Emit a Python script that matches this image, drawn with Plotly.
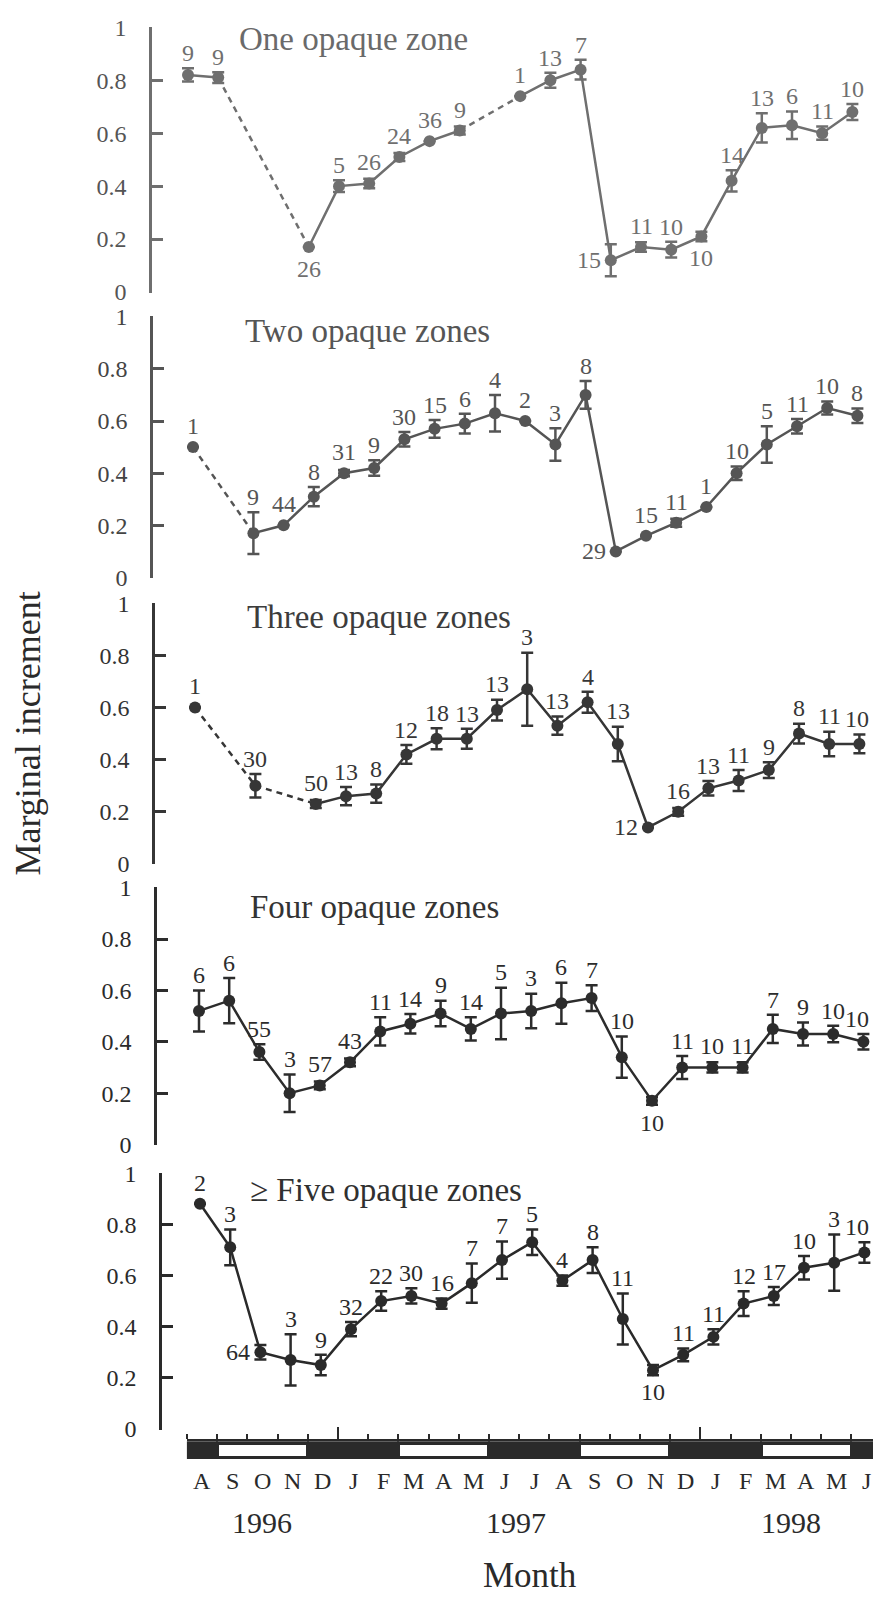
import plotly.graph_objects as go

# ---------------- data ----------------
MONTHS = ["A", "S", "O", "N", "D", "J", "F", "M", "A", "M", "J", "J",
          "A", "S", "O", "N", "D", "J", "F", "M", "A", "M", "J"]
MONTH_NUM = [8, 9, 10, 11, 12, 1, 2, 3, 4, 5, 6, 7, 8, 9, 10, 11, 12, 1, 2, 3, 4, 5, 6]
YEARS = ["1996", "1997", "1998"]

TITLES = ["One opaque zone", "Two opaque zones", "Three opaque zones",
          "Four opaque zones", "\u2265 Five opaque zones"]

P1_MEAN = [0.82, 0.81, None, None, 0.17, 0.40, 0.41, 0.51, 0.57, 0.61, None, 0.74,
           0.80, 0.84, 0.12, 0.17, 0.16, 0.21, 0.42, 0.62, 0.63, 0.60, 0.68]
P1_ERR = [0.025, 0.02, None, None, 0, 0.022, 0.018, 0.015, 0, 0.015, None, 0,
          0.028, 0.037, 0.06, 0.018, 0.03, 0.018, 0.04, 0.055, 0.052, 0.025, 0.03]
P1_N = [9, 9, None, None, 26, 5, 26, 24, 36, 9, None, 1,
        13, 7, 15, 11, 10, 10, 14, 13, 6, 11, 10]

P2_MEAN = [0.50, None, 0.17, 0.20, 0.31, 0.40, 0.42, 0.53, 0.57, 0.59, 0.63, 0.60,
           0.51, 0.70, 0.10, 0.16, 0.21, 0.27, 0.40, 0.51, 0.58, 0.65, 0.62]
P2_ERR = [0, None, 0.08, 0, 0.037, 0.012, 0.03, 0.028, 0.034, 0.038, 0.07, 0,
          0.062, 0.053, 0, 0, 0.015, 0, 0.026, 0.07, 0.028, 0.025, 0.028]
P2_N = [1, None, 9, 44, 8, 31, 9, 30, 15, 6, 4, 2,
        3, 8, 29, 15, 11, 1, 10, 5, 11, 10, 8]

P3_MEAN = [0.60, None, 0.30, None, 0.23, 0.26, 0.27, 0.42, 0.48, 0.48, 0.59, 0.67,
           0.53, 0.62, 0.46, 0.14, 0.20, 0.29, 0.32, 0.36, 0.50, 0.46, 0.46]
P3_ERR = [0, None, 0.045, None, 0.015, 0.035, 0.035, 0.036, 0.04, 0.038, 0.04, 0.14,
          0.035, 0.04, 0.066, 0, 0.015, 0.028, 0.04, 0.03, 0.038, 0.047, 0.036]
P3_N = [1, None, 30, None, 50, 13, 8, 12, 18, 13, 13, 3,
        13, 4, 13, 12, 16, 13, 11, 9, 8, 11, 10]

P4_MEAN = [0.52, 0.56, 0.36, 0.20, 0.23, 0.32, 0.44, 0.47, 0.51, 0.45, 0.51, 0.52,
           0.55, 0.57, 0.34, 0.17, 0.30, 0.30, 0.30, 0.45, 0.43, 0.43, 0.40]
P4_ERR = [0.08, 0.088, 0.03, 0.073, 0.015, 0.015, 0.055, 0.038, 0.05, 0.045, 0.1, 0.067,
          0.08, 0.05, 0.08, 0.015, 0.045, 0.02, 0.02, 0.055, 0.045, 0.032, 0.03]
P4_N = [6, 6, 55, 3, 57, 43, 11, 14, 9, 14, 5, 3,
        6, 7, 10, 10, 11, 10, 11, 7, 9, 10, 10]

P5_MEAN = [0.88, 0.71, 0.30, 0.27, 0.25, 0.39, 0.50, 0.52, 0.49, 0.57, 0.66, 0.73,
           0.58, 0.66, 0.43, 0.23, 0.29, 0.36, 0.49, 0.52, 0.63, 0.65, 0.69]
P5_ERR = [0, 0.07, 0.028, 0.1, 0.04, 0.028, 0.038, 0.03, 0.02, 0.077, 0.073, 0.05,
          0.02, 0.05, 0.1, 0.02, 0.025, 0.03, 0.048, 0.035, 0.046, 0.11, 0.04]
P5_N = [2, 3, 64, 3, 9, 32, 22, 30, 16, 7, 7, 5,
        4, 8, 11, 10, 11, 11, 12, 17, 10, 3, 10]

MEANS = [P1_MEAN, P2_MEAN, P3_MEAN, P4_MEAN, P5_MEAN]
ERRS = [P1_ERR, P2_ERR, P3_ERR, P4_ERR, P5_ERR]
NS = [P1_N, P2_N, P3_N, P4_N, P5_N]

# ---------------- layout / style ----------------
W, H = 873, 1601
FONT = "'Liberation Serif', 'Times New Roman', Times, serif"
COLORS = ["#6f6f6f", "#555555", "#363636", "#2c2c2c", "#2a2a2a"]
TITLE_COLORS = ["#6a6a6a", "#555555", "#3c3c3c", "#333333", "#303030"]
TICK_COLORS = ["#555555", "#444444", "#333333", "#2a2a2a", "#2a2a2a"]
AXIS_X = [152, 153, 155, 157, 162]
FIRST_X = [188, 193, 195, 199, 200]
STEP = 30.2
Y_TOP = [15, 309, 600, 889, 1179]
Y_BOT = [285, 575, 866, 1151, 1440]
TITLE_POS = [(237, 27), (243, 324), (245, 615), (248, 909), (248, 1197)]
LABEL_FS = 24
# label placement exceptions: (panel, month index) -> side
LABEL_SIDE = {(0, 4): "b", (0, 14): "l", (0, 17): "b",
              (1, 14): "l", (2, 15): "l", (3, 15): "b",
              (4, 2): "l", (4, 15): "b"}
YEAR_AT = [2.0, 10.4, 19.5]


def px_to_paper_y(py):
    return 1 - py / H


fig = go.Figure()
annotations = []
layout = {}
NM = len(MONTHS)

for k in range(5):
    ax = "" if k == 0 else str(k + 1)
    xref, yref = "x" + ax, "y" + ax
    mean, err, nn = MEANS[k], ERRS[k], NS[k]
    col = COLORS[k]
    idx = list(range(NM))

    # dashed bridges across missing months
    dx, dy = [], []
    i = 0
    while i < len(mean):
        if mean[i] is None:
            p = i - 1
            q = i
            while q < len(mean) and mean[q] is None:
                q += 1
            if p >= 0 and q < len(mean):
                dx += [p, q, None]
                dy += [mean[p], mean[q], None]
            i = q
        else:
            i += 1
    if dx:
        fig.add_trace(go.Scatter(x=dx, y=dy, mode="lines", xaxis=xref, yaxis=yref,
                                 line=dict(color=col, width=2.5, dash="6px,5px"),
                                 connectgaps=False, showlegend=False, hoverinfo="skip"))

    err_arr = [e if e else None for e in err]
    fig.add_trace(go.Scatter(
        x=idx, y=mean, mode="lines+markers", xaxis=xref, yaxis=yref,
        connectgaps=False, showlegend=False, cliponaxis=False,
        line=dict(color=col, width=2.5),
        marker=dict(color=col, size=12),
        error_y=dict(type="data", array=err_arr, visible=True, color=col,
                     thickness=2.5, width=6)))

    # count labels
    scale = Y_BOT[k] - Y_TOP[k]
    for i, (v, e, n) in enumerate(zip(mean, err, nn)):
        if v is None or n is None:
            continue
        e = e or 0
        side = LABEL_SIDE.get((k, i), "a")
        off = max(e * scale, 6)
        a = dict(x=i, y=v, xref=xref, yref=yref, text=str(n), showarrow=False,
                 font=dict(family=FONT, size=LABEL_FS, color=col))
        if side == "a":
            a.update(yanchor="bottom", yshift=off)
        elif side == "b":
            a.update(yanchor="top", yshift=-(off + 1))
        else:
            a.update(xanchor="right", xshift=-8, yanchor="middle")
        # keep labels inside the page at the right edge
        px = FIRST_X[k] + i * STEP
        half = 0.5 * LABEL_FS * 0.5 * len(str(n)) + 3
        if side != "l" and px + half > W - 2:
            a.update(xanchor="right", xshift=(W - 2) - px)
        annotations.append(a)

    # axes
    x0 = (AXIS_X[k] - FIRST_X[k]) / STEP
    x1 = (W - FIRST_X[k]) / STEP
    layout["xaxis" + ax] = dict(domain=[AXIS_X[k] / W, 1], range=[x0, x1],
                               showline=False, showgrid=False, zeroline=False,
                               showticklabels=False, ticks="", anchor=yref)
    layout["yaxis" + ax] = dict(domain=[px_to_paper_y(Y_BOT[k]), px_to_paper_y(Y_TOP[k])],
                               range=[-0.002, 1.002], anchor=xref,
                               showline=True, linecolor=col, linewidth=2.5,
                               ticks="inside", ticklen=11, tickwidth=2.5, tickcolor=col,
                               tickvals=[0, 0.2, 0.4, 0.6, 0.8, 1],
                               ticktext=["0", "0.2", "0.4", "0.6", "0.8", "1"],
                               ticklabelstandoff=18,
                               tickfont=dict(family=FONT, size=24, color=TICK_COLORS[k]),
                               showgrid=False, zeroline=False)

    tx, ty = TITLE_POS[k]
    annotations.append(dict(x=tx / W, y=px_to_paper_y(ty), xref="paper", yref="paper",
                            xanchor="left", yanchor="middle", showarrow=False,
                            text=TITLES[k],
                            font=dict(family=FONT, size=33, color=TITLE_COLORS[k])))

# ---------- season bar along the month axis ----------
dark = [m in (12, 1, 2, 6, 7, 8) for m in MONTH_NUM]
runs = []
i = 0
while i < NM:
    j = i
    while j < NM and dark[j] == dark[i]:
        j += 1
    runs.append((i, j - 1, dark[i]))
    i = j

fig.add_trace(go.Bar(x=[(a + b) / 2 for a, b, _ in runs],
                     y=[1] * len(runs), base=0,
                     width=[(b - a + 1) + 0.06 for a, b, _ in runs],
                     xaxis="x6", yaxis="y6",
                     marker=dict(color="#2a2a2a", line=dict(width=0)),
                     showlegend=False, hoverinfo="skip"))
light = [(a, b) for a, b, d in runs if not d]
fig.add_trace(go.Bar(x=[(a + b) / 2 for a, b in light],
                     y=[0.6] * len(light), base=0.18,
                     width=[(b - a + 1) - 0.12 for a, b in light],
                     xaxis="x6", yaxis="y6",
                     marker=dict(color="white", line=dict(width=0)),
                     showlegend=False, hoverinfo="skip"))

BAR_TOP, BAR_BOT = 1452, 1470
MONTH0_X = 202
layout["xaxis6"] = dict(domain=[(MONTH0_X - STEP / 2) / W, 1],
                        range=[-0.5, (W - MONTH0_X) / STEP],
                        side="top", anchor="y6", showline=True, linecolor="#2a2a2a",
                        linewidth=2, ticks="outside", ticklen=12, tickwidth=2,
                        tickcolor="#2a2a2a",
                        tickvals=[i + 0.5 for i in range(NM - 1) if MONTH_NUM[i] == 12],
                        showticklabels=False, showgrid=False, zeroline=False,
                        minor=dict(tickvals=[i - 0.5 for i in range(NM + 1)],
                                   ticks="outside", ticklen=5, tickwidth=2,
                                   tickcolor="#2a2a2a", showgrid=False))
layout["yaxis6"] = dict(domain=[px_to_paper_y(BAR_BOT), px_to_paper_y(BAR_TOP)],
                        range=[0, 1], anchor="x6", visible=False)

for i, m in enumerate(MONTHS):
    annotations.append(dict(x=i, y=px_to_paper_y(1492), xref="x6", yref="paper",
                            text=m, showarrow=False, yanchor="middle",
                            font=dict(family=FONT, size=24, color="#2a2a2a")))
for yr, xp in zip(YEARS, YEAR_AT):
    annotations.append(dict(x=xp, y=px_to_paper_y(1534), xref="x6", yref="paper",
                            text=yr, showarrow=False, yanchor="middle",
                            font=dict(family=FONT, size=30, color="#2a2a2a")))

annotations.append(dict(x=530 / W, y=px_to_paper_y(1588), xref="paper", yref="paper",
                        text="Month", showarrow=False, yanchor="middle",
                        font=dict(family=FONT, size=35, color="#2a2a2a")))
annotations.append(dict(x=28 / W, y=px_to_paper_y(733), xref="paper", yref="paper",
                        text="Marginal increment", showarrow=False, textangle=-90,
                        xanchor="center", yanchor="middle",
                        font=dict(family=FONT, size=36, color="#2a2a2a")))

fig.update_layout(width=W, height=H, margin=dict(l=0, r=0, t=0, b=0),
                  paper_bgcolor="white", plot_bgcolor="rgba(0,0,0,0)",
                  barmode="overlay", bargap=0, annotations=annotations, showlegend=False,
                  **layout)

fig.write_html("out.html")
